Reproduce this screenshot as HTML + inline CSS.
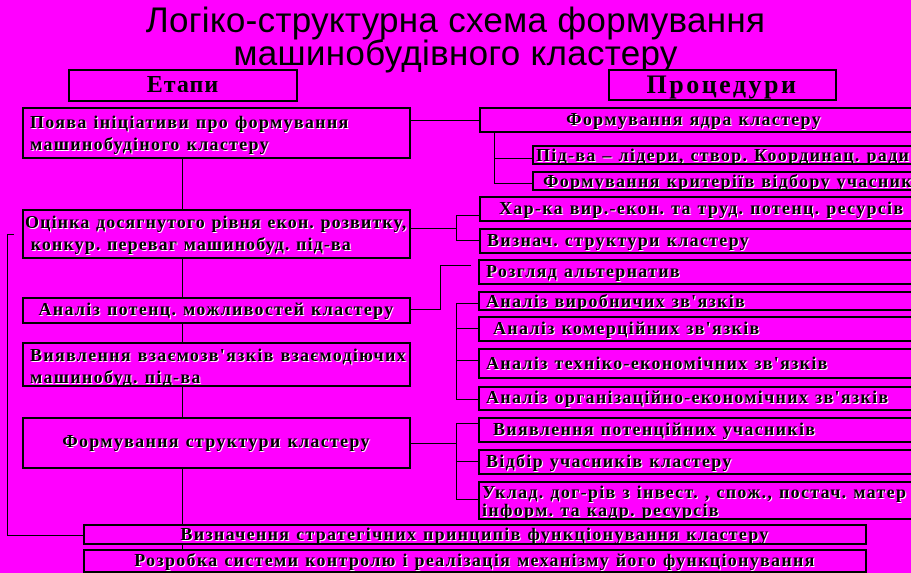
<!DOCTYPE html>
<html><head><meta charset="utf-8"><style>
body{margin:0;width:911px;height:569px;overflow:hidden;background:#ff00ff;position:relative;font-family:"Liberation Serif",serif;}
.t{position:absolute;left:0;width:911px;text-align:center;font-family:"Liberation Sans",sans-serif;font-size:35px;color:#000;line-height:33px;letter-spacing:0.3px;}
.b{position:absolute;z-index:2;background:#ff00ff;border:2.5px solid #000;box-sizing:border-box;color:#000;font-size:18px;font-weight:bold;line-height:21px;white-space:nowrap;overflow:hidden;text-shadow:1px 1px 0 #fff;letter-spacing:1.3px;padding-left:6px;}
.c{text-align:center;padding-left:0;}
.l{position:absolute;background:#000;z-index:1;}
</style></head><body>
<div class="t" style="top:4px">Логіко-структурна схема формування</div>
<div class="t" style="top:37px">машинобудівного кластеру</div>
<div class="b c" style="left:68px;top:69px;width:230px;height:33px;font-size:24px;line-height:28px;text-shadow:none;letter-spacing:1px">Етапи</div>
<div class="b c" style="left:608px;top:69px;width:229px;height:32px;font-size:26px;line-height:27px;text-shadow:none;letter-spacing:2.5px">Процедури</div>

<div class="b" style="left:22px;top:107px;width:389px;height:52px;line-height:22px;padding-top:2px">Поява ініціативи про формування<br>машинобудіного кластеру</div>
<div class="b" style="left:22px;top:209px;width:389px;height:50px;line-height:22px;padding-left:1px;letter-spacing:1.1px">Оцінка досягнутого рівня екон. розвитку,<br>&nbsp;конкур. переваг машинобуд. під-ва</div>
<div class="b c" style="left:22px;top:297px;width:389px;height:27px">Аналіз потенц. можливостей кластеру</div>
<div class="b" style="left:22px;top:342px;width:389px;height:45px;line-height:22px">Виявлення взаємозв'язків взаємодіючих<br>машинобуд. під-ва</div>
<div class="b c" style="left:22px;top:417px;width:389px;height:52px;line-height:44px">Формування структури кластеру</div>
<div class="b c" style="left:83px;top:524px;width:784px;height:21px;line-height:17px">Визначення стратегічних принципів функціонування кластеру</div>
<div class="b c" style="left:83px;top:549px;width:784px;height:24px;line-height:19px">Розробка системи контролю і реалізація механізму його функціонування</div>

<div class="b c" style="left:479px;top:107px;width:440px;height:26px;padding-right:10px">Формування ядра кластеру</div>
<div class="b" style="left:532px;top:145px;width:390px;height:20px;line-height:16px;padding-left:2px">Під-ва – лідери, створ. Координац. ради</div>
<div class="b" style="left:532px;top:171px;width:390px;height:20px;line-height:16px;padding-left:9px">Формування критеріїв відбору учасників</div>
<div class="b" style="left:479px;top:196px;width:440px;height:26px;padding-left:18px">Хар-ка вир.-екон. та труд. потенц. ресурсів</div>
<div class="b" style="left:479px;top:228px;width:440px;height:26px">Визнач. структури кластеру</div>
<div class="b" style="left:478px;top:259px;width:440px;height:26px">Розгляд альтернатив</div>
<div class="b" style="left:478px;top:291px;width:440px;height:20px;line-height:16px">Аналіз виробничих зв'язків</div>
<div class="b" style="left:478px;top:316px;width:440px;height:26px;padding-left:13px">Аналіз комерційних зв'язків</div>
<div class="b" style="left:478px;top:348px;width:440px;height:31px;line-height:26px">Аналіз техніко-економічних зв'язків</div>
<div class="b" style="left:478px;top:386px;width:440px;height:25px;line-height:19px">Аналіз організаційно-економічних зв'язків</div>
<div class="b" style="left:478px;top:417px;width:440px;height:26px;padding-left:13px">Виявлення потенційних учасників</div>
<div class="b" style="left:478px;top:449px;width:440px;height:26px">Відбір учасників кластеру</div>
<div class="b" style="left:478px;top:481px;width:440px;height:39px;line-height:18px;padding-left:2px">Уклад. дог-рів з інвест. , спож., постач.  матер<br>інформ. та кадр. ресурсів</div>

<div class="l" style="left:182px;top:158px;width:1px;height:392px"></div>
<div class="l" style="left:7px;top:234px;width:1px;height:302px"></div>
<div class="l" style="left:7px;top:234px;width:7px;height:1px"></div>
<div class="l" style="left:7px;top:535px;width:76px;height:1px"></div>
<div class="l" style="left:410px;top:120px;width:69px;height:1px"></div>
<div class="l" style="left:494px;top:133px;width:1px;height:50px"></div>
<div class="l" style="left:494px;top:158px;width:38px;height:1px"></div>
<div class="l" style="left:494px;top:183px;width:38px;height:1px"></div>
<div class="l" style="left:410px;top:228px;width:46px;height:1px"></div>
<div class="l" style="left:456px;top:215px;width:1px;height:26px"></div>
<div class="l" style="left:456px;top:215px;width:23px;height:1px"></div>
<div class="l" style="left:456px;top:240px;width:23px;height:1px"></div>
<div class="l" style="left:410px;top:309px;width:30px;height:1px"></div>
<div class="l" style="left:440px;top:265px;width:1px;height:45px"></div>
<div class="l" style="left:440px;top:265px;width:31px;height:1px"></div>
<div class="l" style="left:456px;top:303px;width:1px;height:97px"></div>
<div class="l" style="left:456px;top:303px;width:22px;height:1px"></div>
<div class="l" style="left:456px;top:328px;width:22px;height:1px"></div>
<div class="l" style="left:456px;top:360px;width:22px;height:1px"></div>
<div class="l" style="left:456px;top:399px;width:22px;height:1px"></div>
<div class="l" style="left:410px;top:443px;width:46px;height:1px"></div>
<div class="l" style="left:456px;top:423px;width:1px;height:77px"></div>
<div class="l" style="left:456px;top:423px;width:22px;height:1px"></div>
<div class="l" style="left:456px;top:461px;width:22px;height:1px"></div>
<div class="l" style="left:456px;top:499px;width:22px;height:1px"></div>
</body></html>
